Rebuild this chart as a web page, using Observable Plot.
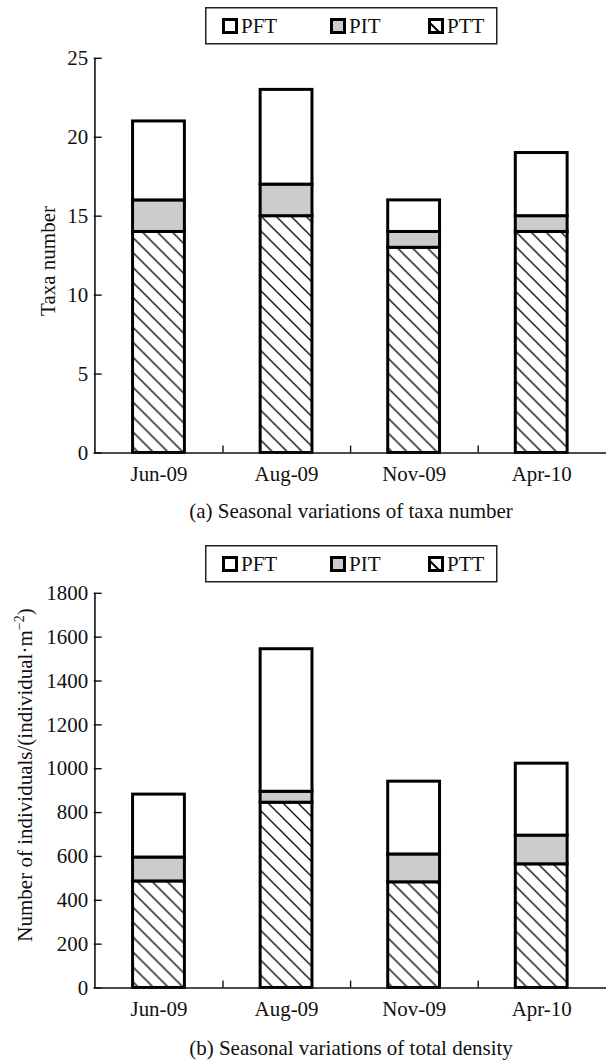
<!DOCTYPE html>
<html>
<head>
<meta charset="utf-8">
<script src="https://cdn.jsdelivr.net/npm/d3@7"></script>
<script src="https://cdn.jsdelivr.net/npm/@observablehq/plot@0.6"></script>
<style>
  html, body { margin: 0; padding: 0; background: #fff; overflow: hidden; }
  #page { position: relative; width: 606px; height: 1063px; overflow: hidden; background: #fff; }
  #page > svg { position: absolute; left: 0; }
</style>
</head>
<body>
<div id="page"></div>
<script>
// ---- data ----
const categories = ["Jun-09", "Aug-09", "Nov-09", "Apr-10"];
const seriesNames = ["PTT", "PIT", "PFT"]; // bottom to top
const legendNames = ["PFT", "PIT", "PTT"];
const taxaPTT = [14, 15, 13, 14];
const taxaPIT = [2, 2, 1, 1];
const taxaPFT = [5, 6, 2, 4];
const densPTT = [486, 845, 482, 564];
const densPIT = [109, 50, 127, 131];
const densPFT = [287, 650, 332, 328];
const taxaTicks = [0, 5, 10, 15, 20, 25];
const densTicks = [0, 200, 400, 600, 800, 1000, 1200, 1400, 1600, 1800];
const captionA = "(a) Seasonal variations of taxa number";
const captionB = "(b) Seasonal variations of total density";
const labelA = "Taxa number";

const FONT = "'Liberation Serif', 'Times New Roman', Times, serif";
const FS = 21;
const INK = "#111";

function rows(ptt, pit, pft) {
  const out = [];
  categories.forEach((c, i) => {
    out.push({cat: c, series: "PTT", value: ptt[i]});
    out.push({cat: c, series: "PIT", value: pit[i]});
    out.push({cat: c, series: "PFT", value: pft[i]});
  });
  return out;
}

const W = 608, H = 490, ML = 94, MR = 0, MT = 58, MB = 36;
const plotW = W - ML - MR, plotH = H - MT - MB;
const halfStep = plotW / categories.length / 2;

function panel(data, ticks, patId, top) {
  const yMax = ticks[ticks.length - 1];
  const svg = Plot.plot({
    width: W, height: H,
    marginLeft: ML, marginRight: MR, marginTop: MT, marginBottom: MB,
    style: {fontFamily: FONT, fontSize: FS + "px", color: INK, background: "transparent", overflow: "visible"},
    x: {domain: categories, paddingInner: 0.595, paddingOuter: 0.2975, axis: null},
    y: {domain: [0, yMax], axis: null},
    color: {domain: seriesNames, range: [`url(#${patId})`, "#cccccc", "#ffffff"]},
    marks: [
      Plot.barY(data, {x: "cat", y: "value", fill: "series", order: seriesNames, stroke: "#000", strokeWidth: 3}),
      // x axis line
      Plot.ruleY([0], {stroke: INK, strokeWidth: 1.6}),
      // y axis line
      Plot.ruleX([categories[0]], {x: d => d, dx: -halfStep, stroke: INK, strokeWidth: 1.6}),
      // category separator ticks (pointing up)
      Plot.ruleX(categories.slice(0, -1), {x: d => d, dx: halfStep, insetTop: plotH - 7, stroke: INK, strokeWidth: 1.4}),
      // y ticks (pointing inward)
      Plot.ruleY(ticks, {y: d => d, insetRight: plotW - 8, stroke: INK, strokeWidth: 1.4}),
      Plot.axisY(ticks, {tickSize: 0, tickPadding: 6, label: null, fontSize: FS, tickFormat: d => String(d)}),
      Plot.axisX({tickSize: 0, tickPadding: 13, label: null, fontSize: FS})
    ]
  });
  const defs = d3.select(svg).insert("defs", ":first-child");
  const pat = defs.append("pattern").attr("id", patId)
    .attr("patternUnits", "userSpaceOnUse").attr("width", 15).attr("height", 15);
  pat.append("rect").attr("width", 15).attr("height", 15).attr("fill", "#fff");
  pat.append("path").attr("d", "M0,0L15,15M-7.5,7.5L7.5,22.5M7.5,-7.5L22.5,7.5")
    .attr("stroke", "#000").attr("stroke-width", 1.3).attr("fill", "none");
  svg.style.top = top + "px";
  return svg;
}

const page = document.getElementById("page");
page.appendChild(panel(rows(taxaPTT, taxaPIT, taxaPFT), taxaTicks, "hatchA", 0));
page.appendChild(panel(rows(densPTT, densPIT, densPFT), densTicks, "hatchB", 535));

// ---- overlay: legends, axis titles, captions ----
const deco = d3.select(page).append("svg")
  .attr("width", 606).attr("height", 1063)
  .style("top", "0px").style("pointer-events", "none")
  .attr("font-family", FONT).attr("font-size", FS).attr("fill", INK);

function legend(top) {
  const g = deco.append("g");
  g.append("rect").attr("x", 205.75).attr("y", top + 0.75).attr("width", 291).attr("height", 36)
    .attr("fill", "#fff").attr("stroke", "#222").attr("stroke-width", 1.5);
  const xs = [222, 330, 428];
  const fills = {PFT: "#fff", PIT: "#cccccc", PTT: "#fff"};
  legendNames.forEach((name, i) => {
    const x = xs[i], y = top + 11;
    g.append("rect").attr("x", x + 1.5).attr("y", y + 1.5).attr("width", 13).attr("height", 13)
      .attr("fill", fills[name]).attr("stroke", "#000").attr("stroke-width", 3);
    if (name === "PTT") {
      g.append("line").attr("x1", x + 2).attr("y1", y + 5).attr("x2", x + 12).attr("y2", y + 15)
        .attr("stroke", "#000").attr("stroke-width", 2);
    }
    g.append("text").attr("x", x + 19).attr("y", top + 26).text(name);
  });
}
legend(7);
legend(545);

deco.append("text").attr("transform", "translate(55,261) rotate(-90)")
  .attr("text-anchor", "middle").text(labelA);
const lb = deco.append("text").attr("transform", "translate(32,775) rotate(-90)")
  .attr("text-anchor", "middle");
lb.append("tspan").text("Number of individuals/(individual\u00b7m");
lb.append("tspan").attr("font-size", 14).attr("dy", -8).text("\u22122");
lb.append("tspan").attr("dy", 8).text(")");

deco.append("text").attr("x", 351).attr("y", 518).attr("text-anchor", "middle").text(captionA);
deco.append("text").attr("x", 351).attr("y", 1055).attr("text-anchor", "middle").text(captionB);
</script>
</body>
</html>
